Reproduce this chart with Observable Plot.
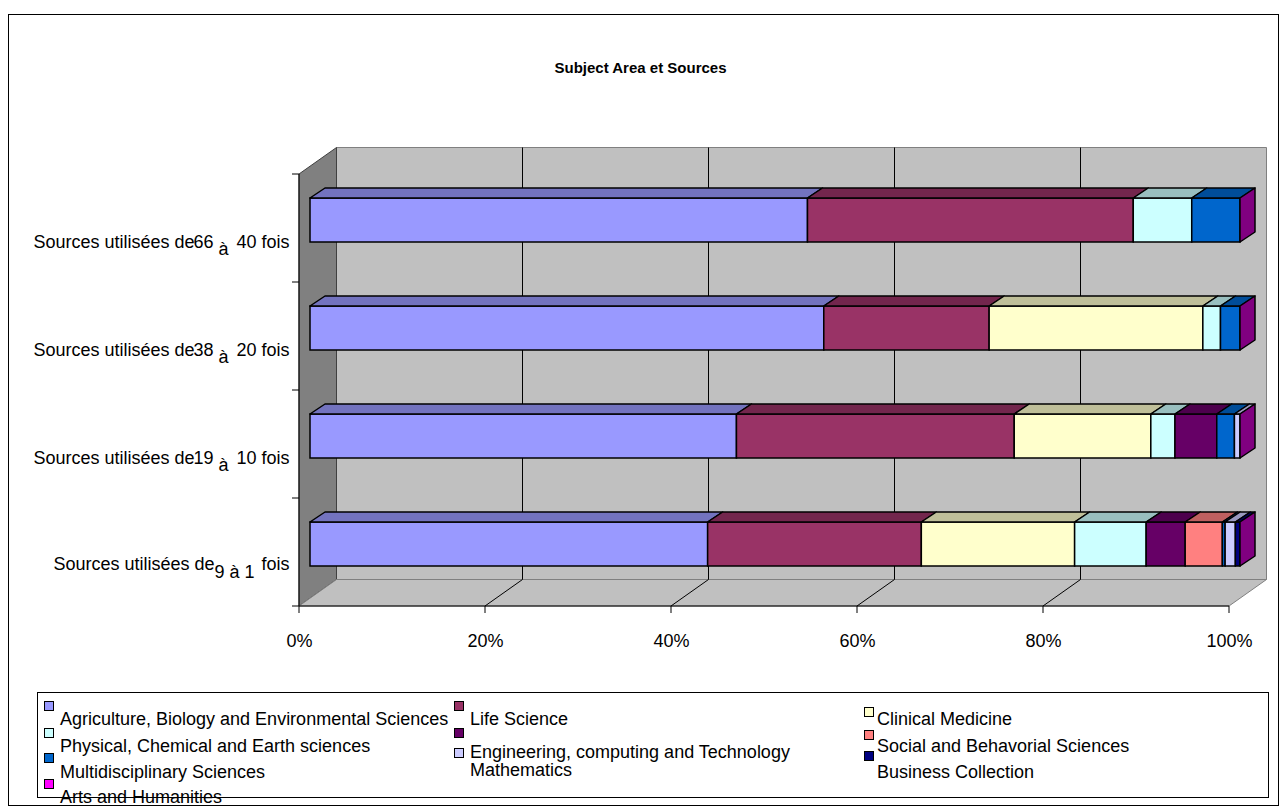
<!DOCTYPE html>
<html>
<head>
<meta charset="utf-8">
<script src="https://cdn.jsdelivr.net/npm/d3@7"></script>
<script src="https://cdn.jsdelivr.net/npm/@observablehq/plot@0.6"></script>
<style>
  html, body { margin: 0; padding: 0; background: #fff; overflow: hidden; }
  body { font-family: Arial, "Liberation Sans", sans-serif; color: #000; }
  #wrap { position: relative; width: 1281px; height: 810px; overflow: hidden; }
  #chart { position: absolute; left: 0; top: 0; }
  #border { position: absolute; left: 8px; top: 14px; width: 1271px; height: 792px; border: 1px solid #000; box-sizing: border-box; pointer-events: none; }
  #title { position: absolute; left: 0; top: 59px; width: 1281px; text-align: center; font-weight: bold; font-size: 15px; line-height: 18px; }
  #legend { position: absolute; left: 37px; top: 692px; width: 1232px; height: 106px; border: 1px solid #000; box-sizing: border-box; }
  .sw { position: absolute; width: 10px; height: 10px; border: 1px solid #000; box-sizing: border-box; }
  .lt { position: absolute; font-size: 18px; line-height: 18px; white-space: nowrap; }
</style>
</head>
<body>
<div id="wrap">
  <div id="chart"></div>
  <div id="border"></div>
  <div id="title">Subject Area et Sources</div>
  <div id="legend"></div>
</div>
<script>
// ---------- data ----------
const subjects = [
  "Agriculture, Biology and Environmental Sciences",
  "Life Science",
  "Clinical Medicine",
  "Physical, Chemical and Earth sciences",
  "Engineering, computing and Technology",
  "Social and Behavorial Sciences",
  "Multidisciplinary Sciences",
  "Mathematics",
  "Business Collection",
  "Arts and Humanities"
];
const colors = ["#9999FF", "#993366", "#FFFFCC", "#CCFFFF", "#660066", "#FF8080", "#0066CC", "#CCCCFF", "#000080", "#FF00FF"];
const rangeFrom = ["66", "38", "19", "9"];
const rangeTo = ["40", "20", "10", "1"];
// shares (%) per subject, in the order of `subjects`
const share66to40 = [53.6, 35.1, 0, 6.3, 0, 0, 5.2, 0, 0, 0];
const share38to20 = [55.3, 17.8, 23.0, 1.9, 0, 0, 2.1, 0, 0, 0];
const share19to10 = [45.9, 29.9, 14.7, 2.6, 4.5, 0, 1.9, 0.6, 0, 0];
const share9to1   = [42.8, 23.0, 16.5, 7.7, 4.2, 4.0, 0.3, 1.1, 0.5, 0];
const tickValues = [0, 20, 40, 60, 80, 100];

// ---------- derived table ----------
const shares = [share66to40, share38to20, share19to10, share9to1];
const categories = rangeFrom.map((f, i) => `Sources utilisées de ${f} à ${rangeTo[i]} fois`);
const table = [];
categories.forEach((cat, i) => {
  const vals = shares[i];
  const total = d3.sum(vals);
  let acc = 0;
  subjects.forEach((s, j) => {
    const v = vals[j];
    table.push({cat, idx: i, subject: s, value: v, x1: acc / total, x2: (acc + v) / total});
    acc += v;
  });
});

const shade = (c, k) => { const r = d3.rgb(c); return d3.rgb(r.r * k, r.g * k, r.b * k).formatHex(); };
const FONT = 'Arial, "Liberation Sans", sans-serif';

// 3D offsets relative to the bar front plane (pixels, styling)
const FRONT = {dx: -11, dy: 8};
const BACK = {dx: 26.5, dy: -18.5};
const DEPTH = {dx: 15, dy: -10};

function frame3d(index, scales, values, dims) {
  const X = scales.x, Y = scales.y;
  const L = X(0), R = X(1), T = dims.marginTop, B = dims.height - dims.marginBottom;
  const g = d3.create("svg:g").attr("fill", "none");
  // back wall
  g.append("path").attr("fill", "#C0C0C0").attr("stroke", "#808080")
    .attr("d", `M${L + BACK.dx},${T + BACK.dy}H${R + BACK.dx}V${B + BACK.dy}H${L + BACK.dx}Z`);
  // left wall
  g.append("path").attr("fill", "#808080").attr("stroke", "#404040")
    .attr("d", `M${L + FRONT.dx},${T + FRONT.dy}L${L + BACK.dx},${T + BACK.dy}V${B + BACK.dy}L${L + FRONT.dx},${B + FRONT.dy}Z`);
  // floor
  g.append("path").attr("fill", "#C0C0C0").attr("stroke", "#808080")
    .attr("d", `M${L + FRONT.dx},${B + FRONT.dy}H${R + FRONT.dx}L${R + BACK.dx},${B + BACK.dy}H${L + BACK.dx}Z`);
  // gridlines (back wall + floor)
  for (const t of tickValues) {
    if (t === 0 || t === 100) continue;
    const x = X(t / 100);
    g.append("path").attr("stroke", "#000")
      .attr("d", `M${x + BACK.dx},${T + BACK.dy}V${B + BACK.dy}L${x + FRONT.dx},${B + FRONT.dy}`);
  }
  // axis lines
  g.append("path").attr("stroke", "#000")
    .attr("d", `M${L + FRONT.dx},${T + FRONT.dy}V${B + FRONT.dy}H${R + FRONT.dx}`);
  for (const t of tickValues) {
    const x = X(t / 100) + FRONT.dx;
    g.append("path").attr("stroke", "#000").attr("d", `M${x},${B + FRONT.dy}v7`);
  }
  const step = Y.step(), bw = Y.bandwidth();
  const bounds = categories.map(c => Y(c) - (step - bw) / 2).concat([B]);
  for (const yb of bounds) {
    g.append("path").attr("stroke", "#000").attr("d", `M${L + FRONT.dx},${yb + FRONT.dy}h-7`);
  }
  return g.node();
}

function barFaces(index, scales, values, dims) {
  const X = scales.x, Y = scales.y, bw = Y.bandwidth();
  const C = scales.color || (s => colors[subjects.indexOf(s)]);
  const g = d3.create("svg:g").attr("stroke", "#000").attr("stroke-width", 1.5).attr("stroke-linejoin", "round");
  for (const d of table) {
    if (!(d.value > 0)) continue;
    const y0 = Y(d.cat), a = X(d.x1), b = X(d.x2);
    g.append("path").attr("fill", shade(C(d.subject), 0.75))
      .attr("d", `M${a},${y0}L${b},${y0}L${b + DEPTH.dx},${y0 + DEPTH.dy}L${a + DEPTH.dx},${y0 + DEPTH.dy}Z`);
  }
  const last = subjects[subjects.length - 1];
  for (const cat of categories) {
    const y0 = Y(cat), r = X(1);
    g.append("path").attr("fill", shade(C(last), 0.5))
      .attr("d", `M${r},${y0}L${r + DEPTH.dx},${y0 + DEPTH.dy}V${y0 + bw + DEPTH.dy}L${r},${y0 + bw}Z`);
  }
  return g.node();
}

const twoDigit = categories.filter((c, i) => rangeFrom[i].length > 1);
const oneDigit = categories.filter((c, i) => rangeFrom[i].length === 1);
const idxOf = c => categories.indexOf(c);
const lab = {frameAnchor: "left", textAnchor: "end", lineAnchor: "bottom", fontSize: 18, fill: "#000"};

const chart = Plot.plot({
  width: 1281,
  height: 810,
  marginTop: 166,
  marginBottom: 212,
  marginLeft: 310,
  marginRight: 41,
  style: {background: "transparent", fontFamily: FONT, overflow: "visible"},
  x: {domain: [0, 1], axis: null},
  y: {domain: categories, axis: null, paddingInner: 0.593, paddingOuter: 0.2965},
  color: {domain: subjects, range: colors, type: "ordinal"},
  marks: [
    frame3d,
    Plot.barX(table, {y: "cat", x1: "x1", x2: "x2", fill: "subject", stroke: "#000", strokeWidth: 1.5}),
    barFaces,
    // x tick labels on the front floor edge
    Plot.text(tickValues, {x: d => d / 100, text: d => `${d}%`, frameAnchor: "bottom", lineAnchor: "bottom",
      dx: FRONT.dx, dy: 48, fontSize: 18, fill: "#000"}),
    // category labels (as rendered in the original, pieces overlapping)
    Plot.text(twoDigit, {...lab, y: d => d, text: () => "Sources utilisées de", dx: -116, dy: 27}),
    Plot.text(twoDigit, {...lab, y: d => d, text: d => rangeFrom[idxOf(d)], dx: -97, dy: 27}),
    Plot.text(twoDigit, {...lab, y: d => d, text: () => "à", dx: -82, dy: 34}),
    Plot.text(twoDigit, {...lab, y: d => d, text: d => `${rangeTo[idxOf(d)]} fois`, dx: -21, dy: 27}),
    Plot.text(oneDigit, {...lab, y: d => d, text: () => "Sources utilisées de", dx: -96, dy: 25}),
    Plot.text(oneDigit, {...lab, y: d => d, text: d => `${rangeFrom[idxOf(d)]} à ${rangeTo[idxOf(d)]}`, dx: -56, dy: 33}),
    Plot.text(oneDigit, {...lab, y: d => d, text: () => "fois", dx: -21, dy: 25})
  ]
});
document.getElementById("chart").appendChild(chart);

// ---------- legend (Excel-like 3-column layout) ----------
const legend = document.getElementById("legend");
const colX = [6, 416, 826];            // swatch left, relative to legend box
const swTop = [8, 35, 60, 86];         // swatch top per row
const txtTop = [17, 44, 70, 95];       // text top per row
subjects.forEach((s, i) => {
  const col = i % 3, row = Math.floor(i / 3);
  let st = swTop[row], tt = txtTop[row];
  if (col === 2) st = [14, 37, 58][row];
  if (col === 1 && row === 1) tt = 50;
  if (col === 1 && row === 2) { st = 55; tt = 68; }
  const sw = document.createElement("div");
  sw.className = "sw";
  sw.style.left = colX[col] + "px";
  sw.style.top = st + "px";
  sw.style.background = colors[i];
  legend.appendChild(sw);
  const t = document.createElement("div");
  t.className = "lt";
  t.style.left = (colX[col] + (col === 2 ? 13 : 16)) + "px";
  t.style.top = tt + "px";
  t.textContent = s;
  legend.appendChild(t);
});
</script>
</body>
</html>
